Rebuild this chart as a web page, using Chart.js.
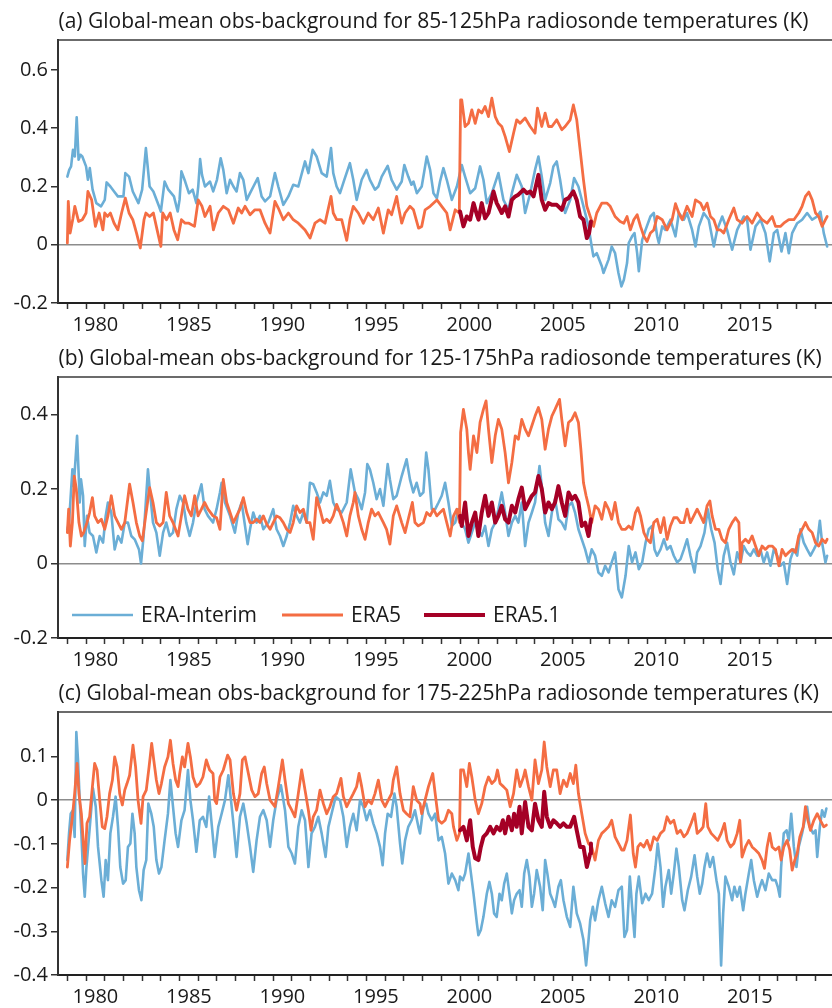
<!DOCTYPE html>
<html>
<head>
<meta charset="utf-8">
<title>Global-mean obs-background for radiosonde temperatures</title>
<script src="https://cdn.jsdelivr.net/npm/chart.js@4.4.1/dist/chart.umd.min.js"></script>
<style>
  html, body { margin: 0; padding: 0; background: #ffffff; }
  #wrap { position: relative; width: 832px; height: 1008px; overflow: hidden; }
  .panel { position: absolute; left: 0; width: 832px; height: 336px; }
  .panel canvas { display: block; }
</style>
</head>
<body>
<div id="wrap">
  <div class="panel" style="top:0px"><canvas id="panelA" width="832" height="336"></canvas></div>
  <div class="panel" style="top:336px"><canvas id="panelB" width="832" height="336"></canvas></div>
  <div class="panel" style="top:672px"><canvas id="panelC" width="832" height="336"></canvas></div>
</div>
<script>
// ---------------------------------------------------------------------------
// Series: [decimal year, obs-background mean (K)]
// ---------------------------------------------------------------------------
const seriesNames  = ['ERA-Interim', 'ERA5', 'ERA5.1'];
const seriesColors = ['#6baed6', '#f46d43', '#a50026'];

const titles = [
  '(a) Global-mean obs-background for 85-125hPa radiosonde temperatures (K)',
  '(b) Global-mean obs-background for 125-175hPa radiosonde temperatures (K)',
  '(c) Global-mean obs-background for 175-225hPa radiosonde temperatures (K)'
];

const yearLabels = [1980, 1985, 1990, 1995, 2000, 2005, 2010, 2015];
const yTicksA = [-0.2, 0, 0.2, 0.4, 0.6];
const yTicksB = [-0.2, 0, 0.2, 0.4];
const yTicksC = [-0.4, -0.3, -0.2, -0.1, 0, 0.1];

// ---- (a) 85-125 hPa ----
const intA = [[1979.00,0.234],[1979.10,0.257],[1979.20,0.269],[1979.30,0.326],[1979.40,0.303],[1979.50,0.438],[1979.60,0.292],[1979.70,0.309],[1979.80,0.303],[1980.00,0.269],[1980.10,0.223],[1980.20,0.263],[1980.35,0.189],[1980.55,0.143],[1980.80,0.132],[1981.00,0.154],[1981.10,0.214],[1981.30,0.200],[1981.50,0.183],[1981.70,0.166],[1982.00,0.166],[1982.10,0.246],[1982.30,0.234],[1982.50,0.183],[1982.80,0.143],[1983.00,0.189],[1983.20,0.332],[1983.40,0.200],[1983.60,0.183],[1983.90,0.132],[1984.00,0.114],[1984.20,0.217],[1984.40,0.189],[1984.70,0.166],[1984.90,0.114],[1985.00,0.154],[1985.10,0.252],[1985.30,0.217],[1985.50,0.177],[1985.70,0.189],[1985.90,0.143],[1986.00,0.200],[1986.10,0.294],[1986.20,0.240],[1986.36,0.200],[1986.63,0.217],[1986.80,0.183],[1987.00,0.223],[1987.20,0.297],[1987.34,0.257],[1987.52,0.177],[1987.70,0.223],[1987.88,0.200],[1988.05,0.183],[1988.23,0.246],[1988.41,0.223],[1988.59,0.154],[1988.77,0.177],[1988.95,0.200],[1989.18,0.229],[1989.39,0.166],[1989.57,0.149],[1989.84,0.166],[1990.10,0.246],[1990.28,0.200],[1990.55,0.137],[1990.82,0.166],[1991.08,0.206],[1991.35,0.200],[1991.71,0.286],[1991.89,0.246],[1992.12,0.326],[1992.33,0.303],[1992.60,0.246],[1992.87,0.234],[1993.10,0.332],[1993.22,0.246],[1993.40,0.200],[1993.58,0.177],[1993.81,0.223],[1994.11,0.280],[1994.29,0.223],[1994.47,0.154],[1994.74,0.223],[1995.00,0.257],[1995.18,0.223],[1995.45,0.189],[1995.63,0.200],[1995.81,0.234],[1996.13,0.271],[1996.34,0.223],[1996.61,0.189],[1996.88,0.217],[1997.02,0.274],[1997.23,0.234],[1997.40,0.206],[1997.51,0.217],[1997.69,0.177],[1997.95,0.200],[1998.22,0.303],[1998.40,0.257],[1998.58,0.177],[1998.76,0.160],[1998.93,0.217],[1999.11,0.263],[1999.29,0.223],[1999.56,0.154],[1999.83,0.200],[2000.09,0.274],[2000.27,0.234],[2000.54,0.177],[2000.81,0.194],[2001.07,0.269],[2001.25,0.223],[2001.43,0.143],[2001.70,0.177],[2002.05,0.246],[2002.32,0.154],[2002.59,0.120],[2002.77,0.177],[2003.03,0.240],[2003.30,0.200],[2003.48,0.109],[2003.75,0.177],[2004.01,0.257],[2004.19,0.303],[2004.37,0.234],[2004.55,0.154],[2004.82,0.212],[2004.99,0.269],[2005.17,0.286],[2005.35,0.223],[2005.62,0.109],[2005.89,0.154],[2006.10,0.229],[2006.33,0.200],[2006.60,0.132],[2006.87,0.063],[2007.04,-0.006],[2007.13,-0.040],[2007.31,-0.029],[2007.58,-0.074],[2007.67,-0.097],[2007.94,-0.051],[2008.11,-0.006],[2008.29,-0.029],[2008.47,-0.097],[2008.63,-0.143],[2008.76,-0.120],[2008.93,-0.063],[2009.02,0.006],[2009.20,0.029],[2009.33,0.040],[2009.47,-0.029],[2009.56,-0.091],[2009.74,0.017],[2009.92,0.051],[2010.18,0.097],[2010.36,0.109],[2010.54,0.029],[2010.63,0.006],[2010.81,0.063],[2010.98,0.051],[2011.25,0.086],[2011.52,0.029],[2011.70,0.109],[2011.97,0.086],[2012.14,0.109],[2012.41,0.051],[2012.59,-0.006],[2012.77,0.063],[2013.03,0.109],[2013.30,0.086],[2013.57,-0.006],[2013.75,0.051],[2014.02,0.097],[2014.28,0.051],[2014.55,-0.017],[2014.82,0.051],[2015.17,0.097],[2015.35,0.086],[2015.53,-0.017],[2015.80,0.063],[2016.07,0.086],[2016.33,0.040],[2016.56,-0.057],[2016.78,0.040],[2016.96,0.051],[2017.19,-0.023],[2017.40,0.040],[2017.58,-0.029],[2017.76,0.040],[2018.03,0.074],[2018.29,0.086],[2018.56,0.109],[2018.83,0.086],[2019.10,0.097],[2019.27,0.114],[2019.45,0.040],[2019.63,-0.006]];

const e5A = [[1979.00,0.006],[1979.05,0.149],[1979.15,0.040],[1979.30,0.091],[1979.40,0.132],[1979.60,0.080],[1979.80,0.086],[1980.00,0.109],[1980.10,0.183],[1980.30,0.154],[1980.50,0.063],[1980.70,0.109],[1980.90,0.051],[1981.00,0.109],[1981.15,0.097],[1981.30,0.109],[1981.50,0.074],[1981.70,0.051],[1981.90,0.109],[1982.10,0.160],[1982.30,0.109],[1982.50,0.086],[1982.70,0.040],[1982.90,-0.011],[1983.10,0.086],[1983.20,0.109],[1983.40,0.097],[1983.60,0.109],[1983.80,0.051],[1984.00,-0.006],[1984.10,0.109],[1984.30,0.086],[1984.50,0.109],[1984.70,0.051],[1984.90,0.017],[1985.10,0.086],[1985.30,0.074],[1985.50,0.074],[1985.80,0.063],[1986.00,0.154],[1986.20,0.132],[1986.36,0.097],[1986.63,0.132],[1986.81,0.051],[1987.07,0.109],[1987.34,0.132],[1987.61,0.120],[1987.88,0.074],[1988.14,0.126],[1988.32,0.109],[1988.50,0.132],[1988.77,0.103],[1989.03,0.120],[1989.30,0.120],[1989.57,0.074],[1989.84,0.040],[1990.10,0.149],[1990.28,0.126],[1990.55,0.086],[1990.82,0.109],[1991.08,0.086],[1991.35,0.074],[1991.71,0.051],[1991.98,0.023],[1992.24,0.074],[1992.51,0.086],[1992.78,0.074],[1993.10,0.166],[1993.22,0.109],[1993.40,0.086],[1993.67,0.086],[1993.94,0.015],[1994.11,0.086],[1994.29,0.132],[1994.56,0.109],[1994.83,0.074],[1995.09,0.109],[1995.36,0.086],[1995.63,0.126],[1995.90,0.040],[1996.16,0.120],[1996.34,0.103],[1996.61,0.166],[1996.70,0.132],[1996.88,0.074],[1997.06,0.109],[1997.32,0.132],[1997.51,0.120],[1997.78,0.057],[1997.95,0.063],[1998.13,0.120],[1998.40,0.132],[1998.76,0.154],[1999.02,0.132],[1999.29,0.109],[1999.47,0.051],[1999.74,0.120],[1999.96,0.109],[2000.03,0.497],[2000.09,0.497],[2000.27,0.406],[2000.45,0.417],[2000.63,0.463],[2000.81,0.417],[2000.99,0.463],[2001.16,0.452],[2001.34,0.475],[2001.52,0.440],[2001.70,0.503],[2001.88,0.440],[2002.05,0.417],[2002.23,0.406],[2002.41,0.372],[2002.64,0.320],[2002.86,0.383],[2003.03,0.429],[2003.21,0.417],[2003.48,0.435],[2003.75,0.406],[2004.01,0.383],[2004.14,0.469],[2004.37,0.406],[2004.55,0.452],[2004.73,0.406],[2004.91,0.406],[2005.17,0.429],[2005.44,0.395],[2005.62,0.406],[2005.89,0.429],[2006.06,0.480],[2006.24,0.429],[2006.42,0.326],[2006.60,0.223],[2006.78,0.132],[2006.96,0.097],[2007.14,0.063],[2007.31,0.109],[2007.58,0.143],[2007.85,0.143],[2008.03,0.132],[2008.29,0.097],[2008.56,0.080],[2008.76,0.074],[2008.93,0.097],[2009.11,0.051],[2009.29,0.086],[2009.47,0.103],[2009.65,0.063],[2009.83,0.029],[2010.00,0.011],[2010.18,0.040],[2010.36,0.051],[2010.54,0.097],[2010.81,0.086],[2011.07,0.051],[2011.34,0.086],[2011.52,0.141],[2011.70,0.109],[2011.88,0.086],[2012.14,0.132],[2012.41,0.097],[2012.59,0.154],[2012.86,0.143],[2013.03,0.120],[2013.21,0.143],[2013.39,0.097],[2013.57,0.086],[2013.75,0.051],[2013.93,0.051],[2014.10,0.040],[2014.37,0.086],[2014.64,0.126],[2014.82,0.086],[2015.08,0.074],[2015.35,0.097],[2015.62,0.074],[2015.89,0.109],[2016.15,0.086],[2016.42,0.074],[2016.69,0.097],[2016.87,0.063],[2017.13,0.063],[2017.31,0.074],[2017.58,0.086],[2017.85,0.086],[2018.11,0.109],[2018.29,0.132],[2018.47,0.166],[2018.65,0.181],[2018.83,0.154],[2019.01,0.109],[2019.18,0.097],[2019.36,0.063],[2019.54,0.086],[2019.63,0.097]];

const e51A = [[2000.00,0.114],[2000.18,0.063],[2000.36,0.097],[2000.54,0.086],[2000.72,0.143],[2000.90,0.103],[2000.99,0.086],[2001.16,0.143],[2001.34,0.091],[2001.52,0.109],[2001.79,0.183],[2001.96,0.143],[2002.05,0.132],[2002.23,0.109],[2002.41,0.132],[2002.59,0.097],[2002.77,0.154],[2002.95,0.166],[2003.12,0.172],[2003.39,0.189],[2003.57,0.177],[2003.75,0.183],[2003.93,0.166],[2004.19,0.240],[2004.37,0.154],[2004.55,0.120],[2004.73,0.143],[2004.91,0.137],[2005.17,0.137],[2005.44,0.120],[2005.62,0.154],[2005.80,0.160],[2006.06,0.183],[2006.24,0.154],[2006.42,0.097],[2006.60,0.086],[2006.78,0.023],[2006.90,0.040],[2007.00,0.080]];

// ---- (b) 125-175 hPa ----
const intB = [[1979.00,0.092],[1979.09,0.110],[1979.18,0.182],[1979.27,0.253],[1979.34,0.208],[1979.45,0.289],[1979.52,0.343],[1979.61,0.235],[1979.66,0.164],[1979.73,0.226],[1979.84,0.182],[1979.93,0.047],[1980.05,0.128],[1980.19,0.083],[1980.37,0.074],[1980.55,0.030],[1980.73,0.074],[1980.91,0.056],[1981.05,0.128],[1981.17,0.164],[1981.35,0.137],[1981.53,0.038],[1981.71,0.074],[1981.89,0.056],[1982.07,0.110],[1982.24,0.110],[1982.42,0.074],[1982.60,0.065],[1982.83,0.038],[1982.94,0.000],[1983.08,0.074],[1983.31,0.253],[1983.44,0.182],[1983.58,0.110],[1983.76,0.083],[1983.94,0.021],[1984.12,0.083],[1984.29,0.110],[1984.47,0.074],[1984.65,0.083],[1984.83,0.146],[1985.01,0.182],[1985.19,0.164],[1985.36,0.110],[1985.54,0.074],[1985.72,0.110],[1985.90,0.164],[1986.17,0.213],[1986.34,0.146],[1986.52,0.128],[1986.79,0.110],[1986.98,0.146],[1987.16,0.191],[1987.25,0.217],[1987.43,0.164],[1987.70,0.128],[1987.96,0.083],[1988.14,0.137],[1988.32,0.164],[1988.50,0.101],[1988.64,0.052],[1988.77,0.092],[1988.94,0.137],[1989.12,0.110],[1989.30,0.128],[1989.48,0.092],[1989.75,0.110],[1990.01,0.146],[1990.19,0.092],[1990.37,0.074],[1990.55,0.047],[1990.73,0.074],[1990.91,0.110],[1991.08,0.155],[1991.26,0.128],[1991.44,0.110],[1991.62,0.137],[1991.80,0.110],[1991.97,0.217],[1992.15,0.213],[1992.33,0.191],[1992.51,0.164],[1992.69,0.191],[1992.87,0.182],[1993.04,0.222],[1993.22,0.164],[1993.40,0.146],[1993.67,0.137],[1993.94,0.164],[1994.15,0.253],[1994.38,0.191],[1994.56,0.173],[1994.74,0.146],[1994.92,0.191],[1995.04,0.267],[1995.18,0.253],[1995.36,0.217],[1995.54,0.173],[1995.72,0.200],[1995.90,0.155],[1996.13,0.267],[1996.25,0.226],[1996.43,0.173],[1996.61,0.182],[1996.88,0.235],[1997.14,0.280],[1997.32,0.226],[1997.50,0.191],[1997.68,0.217],[1997.86,0.182],[1998.04,0.191],[1998.19,0.298],[1998.31,0.253],[1998.49,0.146],[1998.67,0.146],[1998.85,0.164],[1999.02,0.182],[1999.20,0.217],[1999.38,0.164],[1999.56,0.101],[1999.74,0.110],[1999.91,0.146],[2000.09,0.110],[2000.27,0.092],[2000.45,0.056],[2000.63,0.083],[2000.81,0.110],[2000.98,0.092],[2001.16,0.074],[2001.34,0.101],[2001.52,0.047],[2001.70,0.092],[2001.88,0.110],[2002.05,0.146],[2002.23,0.191],[2002.41,0.137],[2002.59,0.074],[2002.77,0.110],[2002.95,0.128],[2003.12,0.110],[2003.30,0.164],[2003.48,0.047],[2003.66,0.110],[2003.84,0.137],[2004.01,0.164],[2004.25,0.262],[2004.37,0.208],[2004.55,0.110],[2004.73,0.074],[2004.91,0.137],[2005.08,0.173],[2005.26,0.119],[2005.44,0.110],[2005.62,0.092],[2005.80,0.155],[2005.98,0.164],[2006.15,0.137],[2006.33,0.092],[2006.51,0.065],[2006.69,0.038],[2006.87,0.003],[2007.04,0.038],[2007.22,0.021],[2007.40,-0.024],[2007.58,-0.033],[2007.76,-0.006],[2007.94,-0.024],[2008.11,0.003],[2008.29,0.030],[2008.47,-0.069],[2008.65,-0.091],[2008.85,-0.033],[2009.02,0.047],[2009.20,0.003],[2009.38,0.030],[2009.56,-0.015],[2009.74,0.003],[2009.92,0.056],[2010.09,0.092],[2010.27,0.101],[2010.40,0.038],[2010.54,0.021],[2010.72,0.038],[2010.90,0.065],[2011.07,0.038],[2011.25,0.047],[2011.43,0.021],[2011.61,0.003],[2011.79,0.012],[2011.97,0.038],[2012.14,0.065],[2012.32,0.021],[2012.54,-0.024],[2012.68,0.030],[2012.86,0.047],[2013.07,0.083],[2013.25,0.146],[2013.43,0.092],[2013.61,0.056],[2013.78,-0.015],[2013.93,-0.055],[2014.10,0.021],[2014.28,0.056],[2014.46,0.003],[2014.64,-0.029],[2014.82,0.030],[2015.00,0.003],[2015.17,0.047],[2015.35,0.030],[2015.53,0.021],[2015.71,0.038],[2015.89,0.021],[2016.06,0.038],[2016.24,0.003],[2016.42,0.030],[2016.60,-0.006],[2016.78,0.038],[2016.96,0.021],[2017.13,-0.006],[2017.31,0.003],[2017.49,-0.055],[2017.67,0.012],[2017.85,0.038],[2018.03,0.021],[2018.20,0.092],[2018.38,0.056],[2018.56,0.038],[2018.74,0.021],[2018.92,0.038],[2019.10,0.056],[2019.24,0.115],[2019.36,0.056],[2019.54,0.003],[2019.63,0.021]];

const e5B = [[1979.00,0.083],[1979.07,0.146],[1979.16,0.047],[1979.27,0.110],[1979.37,0.235],[1979.48,0.200],[1979.62,0.110],[1979.75,0.074],[1979.87,0.083],[1980.05,0.110],[1980.19,0.137],[1980.34,0.177],[1980.46,0.128],[1980.64,0.110],[1980.82,0.119],[1981.00,0.092],[1981.17,0.128],[1981.35,0.182],[1981.53,0.128],[1981.71,0.110],[1981.89,0.092],[1982.07,0.110],[1982.33,0.213],[1982.51,0.164],[1982.69,0.110],[1982.87,0.074],[1983.01,0.061],[1983.19,0.128],[1983.40,0.204],[1983.58,0.164],[1983.76,0.110],[1983.94,0.101],[1984.12,0.110],[1984.29,0.191],[1984.47,0.128],[1984.65,0.110],[1984.92,0.074],[1985.10,0.128],[1985.27,0.182],[1985.45,0.146],[1985.63,0.128],[1985.81,0.182],[1985.99,0.128],[1986.17,0.146],[1986.34,0.164],[1986.52,0.146],[1986.79,0.128],[1986.98,0.123],[1987.16,0.092],[1987.34,0.226],[1987.52,0.164],[1987.70,0.137],[1987.88,0.110],[1988.05,0.128],[1988.23,0.146],[1988.41,0.177],[1988.59,0.137],[1988.77,0.110],[1988.94,0.110],[1989.12,0.119],[1989.30,0.110],[1989.48,0.128],[1989.66,0.106],[1989.84,0.092],[1990.01,0.110],[1990.19,0.128],[1990.37,0.123],[1990.55,0.110],[1990.73,0.092],[1990.91,0.083],[1991.08,0.110],[1991.26,0.155],[1991.44,0.137],[1991.62,0.146],[1991.80,0.110],[1991.97,0.110],[1992.15,0.065],[1992.33,0.177],[1992.51,0.146],[1992.69,0.110],[1992.87,0.119],[1993.04,0.110],[1993.22,0.128],[1993.40,0.159],[1993.58,0.137],[1993.76,0.110],[1993.94,0.074],[1994.11,0.128],[1994.29,0.164],[1994.38,0.191],[1994.56,0.128],[1994.74,0.092],[1994.92,0.065],[1995.09,0.110],[1995.27,0.146],[1995.45,0.128],[1995.63,0.137],[1995.90,0.110],[1996.07,0.092],[1996.25,0.052],[1996.43,0.128],[1996.61,0.155],[1996.88,0.110],[1997.06,0.083],[1997.23,0.119],[1997.45,0.164],[1997.59,0.110],[1997.77,0.101],[1998.04,0.110],[1998.22,0.137],[1998.40,0.128],[1998.58,0.146],[1998.76,0.128],[1998.93,0.137],[1999.11,0.146],[1999.29,0.110],[1999.47,0.074],[1999.65,0.128],[1999.83,0.146],[1999.97,0.110],[2000.03,0.352],[2000.18,0.414],[2000.36,0.361],[2000.45,0.298],[2000.54,0.253],[2000.72,0.343],[2000.90,0.298],[2001.07,0.379],[2001.25,0.414],[2001.39,0.437],[2001.52,0.361],[2001.70,0.271],[2001.88,0.343],[2002.05,0.387],[2002.23,0.361],[2002.41,0.298],[2002.59,0.217],[2002.77,0.271],[2002.95,0.343],[2003.12,0.334],[2003.30,0.387],[2003.48,0.361],[2003.66,0.343],[2003.84,0.370],[2004.01,0.396],[2004.19,0.419],[2004.37,0.387],[2004.55,0.307],[2004.73,0.361],[2004.91,0.396],[2005.08,0.414],[2005.32,0.441],[2005.44,0.387],[2005.62,0.316],[2005.80,0.379],[2005.98,0.387],[2006.15,0.405],[2006.33,0.379],[2006.46,0.307],[2006.60,0.217],[2006.74,0.182],[2006.87,0.155],[2007.04,0.110],[2007.22,0.155],[2007.40,0.146],[2007.58,0.119],[2007.76,0.164],[2007.94,0.146],[2008.11,0.119],[2008.29,0.164],[2008.47,0.110],[2008.65,0.092],[2008.85,0.092],[2009.02,0.101],[2009.20,0.092],[2009.38,0.137],[2009.51,0.150],[2009.65,0.128],[2009.83,0.083],[2010.00,0.065],[2010.18,0.056],[2010.36,0.110],[2010.54,0.119],[2010.72,0.083],[2010.90,0.123],[2011.07,0.065],[2011.25,0.101],[2011.43,0.123],[2011.61,0.123],[2011.79,0.110],[2011.97,0.110],[2012.14,0.146],[2012.32,0.110],[2012.50,0.128],[2012.68,0.146],[2012.86,0.128],[2013.03,0.110],[2013.21,0.155],[2013.36,0.168],[2013.48,0.128],[2013.66,0.092],[2013.84,0.092],[2014.01,0.065],[2014.19,0.056],[2014.37,0.092],[2014.55,0.110],[2014.73,0.123],[2014.91,0.110],[2015.00,0.003],[2015.08,0.056],[2015.26,0.065],[2015.44,0.056],[2015.62,0.074],[2015.80,0.047],[2015.98,0.021],[2016.15,0.047],[2016.33,0.038],[2016.51,0.047],[2016.69,0.047],[2016.87,0.038],[2017.05,-0.006],[2017.22,0.038],[2017.40,0.021],[2017.58,0.030],[2017.76,0.038],[2017.94,0.030],[2018.11,0.074],[2018.29,0.092],[2018.47,0.110],[2018.65,0.092],[2018.83,0.083],[2019.01,0.056],[2019.18,0.047],[2019.36,0.065],[2019.54,0.056],[2019.63,0.065]];

const e51B = [[2000.00,0.128],[2000.09,0.101],[2000.27,0.164],[2000.45,0.074],[2000.63,0.110],[2000.81,0.137],[2000.98,0.074],[2001.16,0.137],[2001.34,0.182],[2001.52,0.128],[2001.70,0.164],[2001.88,0.110],[2002.05,0.128],[2002.23,0.155],[2002.41,0.119],[2002.59,0.110],[2002.77,0.155],[2002.95,0.137],[2003.12,0.173],[2003.30,0.204],[2003.48,0.146],[2003.66,0.164],[2003.84,0.182],[2004.01,0.191],[2004.19,0.235],[2004.37,0.200],[2004.55,0.137],[2004.73,0.164],[2004.91,0.146],[2005.08,0.164],[2005.26,0.208],[2005.44,0.164],[2005.62,0.128],[2005.80,0.191],[2005.98,0.173],[2006.15,0.182],[2006.33,0.164],[2006.51,0.101],[2006.69,0.110],[2006.87,0.074],[2007.00,0.119]];

// ---- (c) 175-225 hPa ----
const intC = [[1979.00,-0.137],[1979.09,-0.076],[1979.18,-0.031],[1979.30,-0.023],[1979.39,-0.084],[1979.48,0.156],[1979.57,0.092],[1979.66,0.000],[1979.75,-0.076],[1979.84,-0.168],[1979.93,-0.221],[1980.02,-0.153],[1980.11,-0.107],[1980.23,-0.046],[1980.37,0.027],[1980.52,-0.015],[1980.64,-0.107],[1980.82,-0.183],[1980.94,-0.221],[1981.05,-0.137],[1981.17,-0.183],[1981.30,-0.076],[1981.44,-0.038],[1981.58,0.008],[1981.71,-0.061],[1981.83,-0.153],[1981.98,-0.191],[1982.12,-0.183],[1982.24,-0.107],[1982.37,-0.099],[1982.48,-0.031],[1982.60,-0.076],[1982.69,-0.153],[1982.83,-0.206],[1982.96,-0.229],[1983.08,-0.160],[1983.22,-0.137],[1983.33,-0.008],[1983.49,-0.031],[1983.62,-0.061],[1983.76,-0.137],[1983.90,-0.168],[1984.03,-0.153],[1984.20,-0.092],[1984.38,-0.031],[1984.51,0.046],[1984.65,-0.015],[1984.79,-0.076],[1984.92,-0.107],[1985.10,-0.046],[1985.27,-0.023],[1985.45,0.069],[1985.58,0.000],[1985.72,-0.046],[1985.90,-0.118],[1986.08,-0.046],[1986.25,-0.038],[1986.43,-0.061],[1986.58,0.008],[1986.70,-0.046],[1986.88,-0.130],[1987.07,-0.061],[1987.25,-0.031],[1987.43,0.000],[1987.61,0.057],[1987.75,0.000],[1987.88,-0.053],[1988.05,-0.130],[1988.23,-0.038],[1988.41,-0.008],[1988.59,-0.053],[1988.77,-0.107],[1988.94,-0.164],[1989.12,-0.092],[1989.30,-0.038],[1989.48,-0.023],[1989.66,-0.046],[1989.84,-0.107],[1990.01,-0.046],[1990.19,0.000],[1990.42,0.034],[1990.64,-0.023],[1990.82,-0.107],[1991.00,-0.122],[1991.17,-0.145],[1991.35,-0.061],[1991.53,-0.023],[1991.71,-0.046],[1991.89,-0.153],[1992.06,-0.076],[1992.24,-0.061],[1992.42,-0.038],[1992.60,-0.076],[1992.81,-0.130],[1992.96,-0.061],[1993.13,-0.031],[1993.35,0.008],[1993.58,0.000],[1993.76,-0.038],[1993.94,-0.107],[1994.11,-0.061],[1994.29,-0.031],[1994.47,-0.069],[1994.65,0.000],[1994.83,-0.015],[1995.00,-0.046],[1995.18,-0.023],[1995.36,-0.053],[1995.54,-0.076],[1995.72,-0.107],[1995.86,-0.149],[1995.99,-0.076],[1996.13,-0.031],[1996.31,-0.038],[1996.49,0.015],[1996.61,-0.015],[1996.79,-0.099],[1996.91,-0.145],[1997.06,-0.092],[1997.23,-0.061],[1997.41,-0.046],[1997.59,-0.023],[1997.77,-0.061],[1997.86,-0.076],[1998.04,-0.015],[1998.19,-0.008],[1998.31,-0.031],[1998.49,-0.046],[1998.67,-0.031],[1998.85,-0.092],[1999.02,-0.084],[1999.20,-0.122],[1999.38,-0.191],[1999.56,-0.168],[1999.74,-0.183],[1999.91,-0.206],[2000.00,-0.175],[2000.15,-0.183],[2000.27,-0.168],[2000.45,-0.122],[2000.54,-0.153],[2000.72,-0.214],[2000.90,-0.282],[2000.98,-0.309],[2001.11,-0.297],[2001.25,-0.267],[2001.43,-0.214],[2001.57,-0.187],[2001.70,-0.214],[2001.82,-0.259],[2001.96,-0.267],[2002.11,-0.214],[2002.23,-0.229],[2002.36,-0.191],[2002.50,-0.168],[2002.64,-0.214],[2002.77,-0.259],[2002.89,-0.229],[2003.03,-0.214],[2003.18,-0.206],[2003.30,-0.244],[2003.43,-0.168],[2003.57,-0.137],[2003.71,-0.175],[2003.84,-0.244],[2003.96,-0.214],[2004.10,-0.160],[2004.28,-0.198],[2004.42,-0.252],[2004.55,-0.137],[2004.67,-0.168],[2004.82,-0.214],[2004.96,-0.229],[2005.08,-0.244],[2005.26,-0.198],[2005.39,-0.183],[2005.53,-0.229],[2005.71,-0.267],[2005.89,-0.290],[2006.06,-0.198],[2006.24,-0.259],[2006.42,-0.282],[2006.60,-0.320],[2006.74,-0.378],[2006.87,-0.320],[2006.96,-0.275],[2007.10,-0.244],[2007.22,-0.275],[2007.40,-0.229],[2007.58,-0.198],[2007.76,-0.236],[2007.94,-0.267],[2008.11,-0.229],[2008.29,-0.244],[2008.47,-0.206],[2008.65,-0.198],[2008.79,-0.313],[2008.93,-0.297],[2009.08,-0.175],[2009.20,-0.244],[2009.33,-0.313],[2009.43,-0.214],[2009.56,-0.175],[2009.74,-0.236],[2009.92,-0.214],[2010.09,-0.229],[2010.27,-0.214],[2010.45,-0.153],[2010.57,-0.099],[2010.72,-0.153],[2010.86,-0.244],[2010.98,-0.198],[2011.16,-0.160],[2011.29,-0.214],[2011.43,-0.168],[2011.57,-0.111],[2011.70,-0.153],[2011.88,-0.229],[2012.00,-0.252],[2012.18,-0.206],[2012.36,-0.175],[2012.54,-0.126],[2012.68,-0.175],[2012.82,-0.214],[2012.95,-0.191],[2013.07,-0.153],[2013.21,-0.122],[2013.36,-0.153],[2013.53,-0.130],[2013.71,-0.183],[2013.84,-0.214],[2013.96,-0.378],[2014.07,-0.259],[2014.19,-0.175],[2014.37,-0.198],[2014.55,-0.229],[2014.67,-0.198],[2014.82,-0.221],[2014.96,-0.198],[2015.14,-0.252],[2015.26,-0.214],[2015.44,-0.168],[2015.57,-0.137],[2015.71,-0.183],[2015.89,-0.221],[2016.03,-0.198],[2016.15,-0.183],[2016.33,-0.206],[2016.51,-0.168],[2016.69,-0.183],[2016.87,-0.183],[2016.99,-0.198],[2017.10,-0.221],[2017.17,-0.153],[2017.31,-0.076],[2017.46,-0.069],[2017.58,-0.092],[2017.71,-0.031],[2017.85,-0.107],[2017.99,-0.153],[2018.11,-0.107],[2018.29,-0.076],[2018.47,-0.038],[2018.56,-0.015],[2018.70,-0.061],[2018.88,-0.076],[2019.01,-0.069],[2019.10,-0.130],[2019.24,-0.061],[2019.36,-0.023],[2019.49,-0.038],[2019.59,-0.019]];

const e5C = [[1979.00,-0.153],[1979.12,-0.092],[1979.27,-0.038],[1979.39,0.015],[1979.52,0.084],[1979.62,0.015],[1979.75,-0.031],[1979.87,-0.107],[1979.94,-0.145],[1980.05,-0.053],[1980.19,-0.038],[1980.34,0.031],[1980.46,0.084],[1980.59,0.069],[1980.73,0.000],[1980.87,-0.061],[1981.00,-0.065],[1981.12,-0.038],[1981.26,0.015],[1981.41,0.046],[1981.53,0.099],[1981.66,0.076],[1981.80,0.015],[1981.94,-0.011],[1982.07,0.023],[1982.19,0.038],[1982.33,0.057],[1982.51,0.126],[1982.65,0.076],[1982.78,0.000],[1982.94,-0.053],[1983.05,0.008],[1983.22,0.023],[1983.37,0.076],[1983.51,0.130],[1983.62,0.092],[1983.76,0.046],[1983.90,0.015],[1984.03,0.038],[1984.20,0.076],[1984.38,0.099],[1984.51,0.137],[1984.65,0.084],[1984.79,0.046],[1984.92,0.031],[1985.01,0.061],[1985.15,0.099],[1985.27,0.076],[1985.45,0.130],[1985.58,0.099],[1985.72,0.053],[1985.90,0.031],[1986.08,0.038],[1986.25,0.053],[1986.43,0.092],[1986.61,0.069],[1986.79,0.061],[1986.88,0.000],[1986.98,-0.008],[1987.16,0.053],[1987.34,0.069],[1987.57,0.103],[1987.70,0.092],[1987.88,0.015],[1988.05,-0.023],[1988.23,0.015],[1988.36,0.092],[1988.50,0.099],[1988.68,0.061],[1988.86,0.023],[1989.03,0.008],[1989.21,0.015],[1989.39,0.061],[1989.53,0.076],[1989.66,0.038],[1989.84,0.000],[1990.10,-0.015],[1990.28,0.031],[1990.50,0.092],[1990.64,0.046],[1990.82,-0.008],[1991.00,-0.023],[1991.17,-0.038],[1991.35,0.015],[1991.53,0.069],[1991.71,0.023],[1991.89,-0.023],[1992.03,-0.069],[1992.15,-0.038],[1992.33,-0.023],[1992.51,0.023],[1992.69,-0.008],[1992.87,-0.031],[1993.04,-0.015],[1993.22,0.008],[1993.40,0.015],[1993.63,0.050],[1993.76,0.008],[1993.94,-0.015],[1994.11,0.000],[1994.29,0.015],[1994.47,0.031],[1994.60,0.061],[1994.74,0.031],[1994.92,-0.015],[1995.09,0.000],[1995.27,-0.008],[1995.45,0.015],[1995.63,0.046],[1995.81,0.000],[1995.99,-0.015],[1996.16,0.000],[1996.34,0.015],[1996.43,0.046],[1996.61,0.076],[1996.79,0.015],[1996.97,-0.023],[1997.14,-0.031],[1997.32,-0.038],[1997.50,0.031],[1997.68,0.000],[1997.86,-0.008],[1997.95,-0.031],[1998.13,0.000],[1998.31,0.031],[1998.54,0.061],[1998.67,0.015],[1998.85,-0.046],[1999.02,-0.053],[1999.20,-0.046],[1999.38,-0.023],[1999.56,-0.031],[1999.65,-0.061],[1999.83,-0.092],[1999.97,-0.076],[2000.03,0.069],[2000.18,0.069],[2000.36,0.031],[2000.50,0.084],[2000.63,0.053],[2000.81,0.000],[2000.98,-0.031],[2001.16,-0.008],[2001.34,0.031],[2001.52,0.053],[2001.70,0.038],[2001.88,0.046],[2002.00,0.069],[2002.14,0.038],[2002.32,0.031],[2002.50,0.023],[2002.68,-0.015],[2002.86,0.015],[2003.03,0.069],[2003.21,0.031],[2003.39,0.053],[2003.48,0.069],[2003.66,0.031],[2003.84,0.000],[2004.01,0.092],[2004.19,0.038],[2004.37,0.069],[2004.50,0.133],[2004.64,0.076],[2004.82,0.031],[2004.99,0.069],[2005.17,0.069],[2005.35,0.015],[2005.53,0.046],[2005.71,0.031],[2005.89,0.061],[2006.06,0.038],[2006.19,0.080],[2006.33,0.015],[2006.51,-0.031],[2006.69,-0.076],[2006.87,-0.099],[2007.04,-0.107],[2007.22,-0.137],[2007.40,-0.092],[2007.58,-0.076],[2007.76,-0.069],[2007.94,-0.061],[2008.11,-0.046],[2008.29,-0.084],[2008.47,-0.099],[2008.65,-0.114],[2008.76,-0.114],[2008.93,-0.092],[2009.11,-0.034],[2009.26,-0.122],[2009.38,-0.153],[2009.51,-0.107],[2009.65,-0.099],[2009.83,-0.107],[2010.00,-0.092],[2010.18,-0.114],[2010.36,-0.084],[2010.54,-0.092],[2010.72,-0.076],[2010.90,-0.069],[2011.07,-0.038],[2011.25,-0.053],[2011.43,-0.046],[2011.61,-0.076],[2011.79,-0.069],[2011.97,-0.084],[2012.14,-0.076],[2012.36,-0.053],[2012.54,-0.031],[2012.68,-0.076],[2012.86,-0.069],[2013.00,-0.061],[2013.14,-0.008],[2013.25,-0.061],[2013.43,-0.076],[2013.61,-0.084],[2013.78,-0.092],[2013.96,-0.076],[2014.14,-0.053],[2014.28,-0.092],[2014.46,-0.107],[2014.64,-0.099],[2014.82,-0.076],[2014.96,-0.046],[2015.08,-0.130],[2015.26,-0.107],[2015.44,-0.092],[2015.62,-0.107],[2015.80,-0.114],[2015.98,-0.122],[2016.15,-0.137],[2016.28,-0.156],[2016.42,-0.107],[2016.56,-0.076],[2016.69,-0.107],[2016.87,-0.114],[2017.05,-0.107],[2017.17,-0.137],[2017.31,-0.107],[2017.49,-0.092],[2017.63,-0.114],[2017.76,-0.160],[2017.90,-0.137],[2018.03,-0.122],[2018.17,-0.084],[2018.35,-0.061],[2018.47,-0.015],[2018.60,-0.046],[2018.74,-0.069],[2018.92,-0.046],[2019.10,-0.031],[2019.27,-0.046],[2019.45,-0.061],[2019.59,-0.057]];

const e51C = [[2000.00,-0.069],[2000.18,-0.061],[2000.36,-0.092],[2000.54,-0.046],[2000.68,-0.107],[2000.81,-0.133],[2000.98,-0.137],[2001.11,-0.107],[2001.25,-0.084],[2001.43,-0.076],[2001.61,-0.061],[2001.79,-0.076],[2001.96,-0.061],[2002.14,-0.069],[2002.29,-0.046],[2002.41,-0.076],[2002.59,-0.038],[2002.77,-0.069],[2002.89,-0.031],[2003.03,-0.061],[2003.18,-0.015],[2003.30,-0.076],[2003.48,-0.004],[2003.66,-0.061],[2003.84,-0.069],[2004.01,-0.008],[2004.19,-0.046],[2004.37,-0.061],[2004.50,0.019],[2004.64,-0.038],[2004.82,-0.061],[2004.99,-0.046],[2005.17,-0.053],[2005.35,-0.061],[2005.53,-0.053],[2005.71,-0.061],[2005.89,-0.061],[2006.10,-0.038],[2006.24,-0.069],[2006.42,-0.107],[2006.60,-0.107],[2006.78,-0.153],[2006.96,-0.122],[2007.00,-0.099]];

// ---------------------------------------------------------------------------
// Drawing
// ---------------------------------------------------------------------------
const FONT = '"Open Sans", "Noto Sans", "DejaVu Sans", sans-serif';
const TEXT = '#1a1a1a';
Chart.defaults.font.family = FONT;
Chart.defaults.font.size = 20;
Chart.defaults.color = TEXT;

const xMin = 1978.5, xMax = 2019.89;
const yearTicks = [];
for (let yr = 1979; yr <= 2019; yr++) yearTicks.push(yr);

function toXY(pairs) {
  return pairs.slice().sort((a, b) => a[0] - b[0]).map(p => ({ x: p[0], y: p[1] }));
}

// Panel heading, left-aligned with the plot frame
const panelTitle = {
  id: 'panelTitle',
  afterDraw(chart, args, opts) {
    const { ctx, chartArea } = chart;
    ctx.save();
    ctx.font = `${opts.size}px ${FONT}`;
    ctx.fillStyle = TEXT;
    ctx.textAlign = 'left';
    ctx.textBaseline = 'middle';
    ctx.fillText(opts.text, chartArea.left + 0.5, chartArea.top - opts.gap);
    ctx.restore();
  }
};

// Upper edge of the plot frame
const frameTop = {
  id: 'frameTop',
  afterDraw(chart) {
    const { ctx, chartArea } = chart;
    ctx.save();
    ctx.strokeStyle = '#3a3a3a';
    ctx.lineWidth = 1.5;
    ctx.beginPath();
    ctx.moveTo(chartArea.left - 1, chartArea.top);
    ctx.lineTo(chartArea.right, chartArea.top);
    ctx.stroke();
    ctx.restore();
  }
};

// In-plot legend with line samples
const lineLegend = {
  id: 'lineLegend',
  afterDatasetsDraw(chart, args, opts) {
    if (!opts.show) return;
    const { ctx, chartArea } = chart;
    const y = chartArea.bottom - opts.lift;
    ctx.save();
    ctx.font = `${opts.size}px ${FONT}`;
    ctx.textAlign = 'left';
    ctx.textBaseline = 'middle';
    opts.items.forEach(it => {
      ctx.strokeStyle = it.color;
      ctx.lineWidth = it.width;
      ctx.beginPath();
      ctx.moveTo(it.x, y);
      ctx.lineTo(it.x + opts.sample, y);
      ctx.stroke();
      ctx.fillStyle = TEXT;
      ctx.fillText(it.label, it.x + opts.textGap, y + 1);
    });
    ctx.restore();
  }
};

const lineWidths = [2.6, 2.8, 4];

function makePanel(id, cfg) {
  const datasets = [
    { label: seriesNames[2], data: toXY(cfg.era51), borderColor: seriesColors[2], borderWidth: lineWidths[2], order: 0 },
    { label: seriesNames[1], data: toXY(cfg.era5),  borderColor: seriesColors[1], borderWidth: lineWidths[1], order: 1 },
    { label: seriesNames[0], data: toXY(cfg.erai),  borderColor: seriesColors[0], borderWidth: lineWidths[0], order: 2 }
  ].map(d => Object.assign(d, {
    pointRadius: 0, pointHoverRadius: 0, tension: 0, fill: false,
    borderJoinStyle: 'round', borderCapStyle: 'round'
  }));

  return new Chart(document.getElementById(id), {
    type: 'line',
    data: { datasets },
    plugins: [panelTitle, frameTop, lineLegend],
    options: {
      responsive: false,
      animation: false,
      devicePixelRatio: 1,
      events: [],
      layout: { padding: { top: cfg.padTop, left: 0, right: 0, bottom: 0 } },
      plugins: {
        legend: { display: false },
        title: { display: false },
        tooltip: { enabled: false },
        panelTitle: { text: cfg.title, size: 21, gap: 18 },
        lineLegend: {
          show: !!cfg.legend, size: 21, lift: 23, sample: 61, textGap: 69,
          items: [
            { label: seriesNames[0], color: seriesColors[0], width: lineWidths[0], x: 72 },
            { label: seriesNames[1], color: seriesColors[1], width: lineWidths[1], x: 282 },
            { label: seriesNames[2], color: seriesColors[2], width: lineWidths[2], x: 424 }
          ]
        }
      },
      scales: {
        x: {
          type: 'linear',
          min: xMin, max: xMax,
          afterBuildTicks: s => { s.ticks = yearTicks.map(v => ({ value: v })); },
          afterFit: s => { s.height = cfg.xAxisH; },
          ticks: {
            autoSkip: false, maxRotation: 0, minRotation: 0,
            labelOffset: 9.35, padding: 4, color: TEXT,
            font: { size: 20 },
            callback: v => (yearLabels.includes(v) ? String(v) : '')
          },
          grid: { drawOnChartArea: false, drawTicks: true, tickLength: 6, tickColor: '#333', tickWidth: 1.5 },
          border: { display: true, color: '#222', width: 2 }
        },
        y: {
          type: 'linear',
          min: cfg.yMin, max: cfg.yMax,
          afterBuildTicks: s => { s.ticks = cfg.yTicks.map(v => ({ value: v })); },
          afterFit: s => { s.width = 58; },
          ticks: {
            autoSkip: false, padding: 3, color: TEXT, font: { size: 20 },
            callback: v => (v === 0 ? '0' : v.toFixed(1))
          },
          grid: {
            drawOnChartArea: true, drawTicks: true, tickLength: 7, tickWidth: 1.5, tickColor: '#333',
            lineWidth: 1.5,
            color: c => (c.tick && c.tick.value === 0 ? '#8c8c8c' : 'rgba(0,0,0,0)')
          },
          border: { display: true, color: '#333', width: 2 }
        }
      }
    }
  });
}

makePanel('panelA', { title: titles[0], erai: intA, era5: e5A, era51: e51A,
  yMin: -0.2, yMax: 0.703, yTicks: yTicksA, padTop: 40, xAxisH: 33 });
makePanel('panelB', { title: titles[1], erai: intB, era5: e5B, era51: e51B,
  yMin: -0.2, yMax: 0.501, yTicks: yTicksB, padTop: 41, xAxisH: 34, legend: true });
makePanel('panelC', { title: titles[2], erai: intC, era5: e5C, era51: e51C,
  yMin: -0.4, yMax: 0.2017, yTicks: yTicksC, padTop: 40, xAxisH: 33 });
</script>
</body>
</html>
